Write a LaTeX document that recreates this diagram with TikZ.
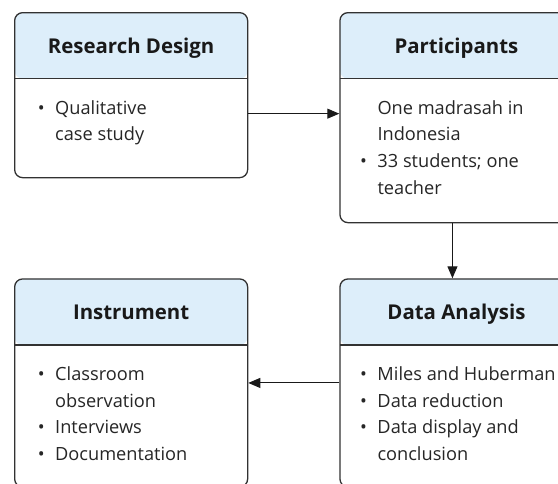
\documentclass[tikz,border=0pt]{standalone}
\usepackage{fontspec}
\setmainfont{Open Sans}
\usepackage{tikz}
\usetikzlibrary{arrows.meta,positioning}

\definecolor{headblue}{RGB}{221,238,250}
\definecolor{boxline}{RGB}{50,50,50}
\newcommand{\bul}{\llap{\textbullet\hspace{10.5pt}}}

\begin{document}
\begin{tikzpicture}[
    x=1pt, y=-1pt,
    >={Triangle[length=12pt,width=10pt]},
    box/.style={
        rectangle,
        rounded corners=8pt,
        draw=boxline,
        fill=white,
        line width=1.3pt,
        minimum width=233pt,
        inner sep=0pt,
        anchor=north west,
        path picture={
            \fill[headblue] (path picture bounding box.north west)
                rectangle ([yshift=-66pt]path picture bounding box.north east);
            \draw[boxline, line width=1.3pt]
                ([yshift=-66pt]path picture bounding box.north west)
                -- ([yshift=-66pt]path picture bounding box.north east);
        }
    },
    headtext/.style={
        anchor=base,
        inner sep=0pt,
        font=\fontsize{20.4}{24}\selectfont\bfseries,
        text=black!90
    },
    bodytext/.style={
        anchor=north west,
        inner sep=0pt,
        align=left,
        font=\fontsize{18.2}{26.7}\selectfont,
        text=black!85,
        execute at begin node=\rule{0pt}{15pt}
    },
    flow/.style={->, draw=black!90, line width=1pt}
]

\useasboundingbox (0,0) rectangle (558,483);
\clip (0,0) rectangle (558,483);

\node[box, minimum height=165pt] (design) at (14,12) {};
\node[box, minimum height=210pt, right=91pt of design.north east, anchor=north west] (part) {};
\node[box, minimum height=208pt, below=55pt of part.south west, anchor=north west] (analysis) {};
\node[box, minimum height=208pt, left=91pt of analysis.north west, anchor=north east] (instr) {};

\node[headtext] (design-head) at ([yshift=-41pt]design.north) {Research Design};
\node[headtext] (part-head) at ([yshift=-41pt]part.north) {Participants};
\node[headtext] (analysis-head) at ([yshift=-41pt]analysis.north) {Data Analysis};
\node[headtext] (instr-head) at ([yshift=-41pt]instr.north) {Instrument};

\node[bodytext] (design-body) at ([xshift=41pt,yshift=-88pt]design.north west)
    {\bul Qualitative\\case study};
\node[bodytext] (part-body) at ([xshift=38pt,yshift=-88pt]part.north west)
    {One madrasah in\\Indonesia\\\bul 33 students; one\\teacher};
\node[bodytext] (analysis-body) at ([xshift=38pt,yshift=-88pt]analysis.north west)
    {\bul Miles and Huberman\\\bul Data reduction\\\bul Data display and\\conclusion};
\node[bodytext] (instr-body) at ([xshift=41pt,yshift=-88pt]instr.north west)
    {\bul Classroom\\observation\\\bul Interviews\\\bul Documentation};

\draw[flow] ([yshift=-18.5pt]design.east) -- ([yshift=-18.5pt]design.east -| part.west);
\draw[flow] ([xshift=-4pt]part.south) -- ([xshift=-4pt]part.south |- analysis.north);
\draw[flow] (analysis.west) -- (analysis.west -| instr.east);

\end{tikzpicture}
\end{document}
